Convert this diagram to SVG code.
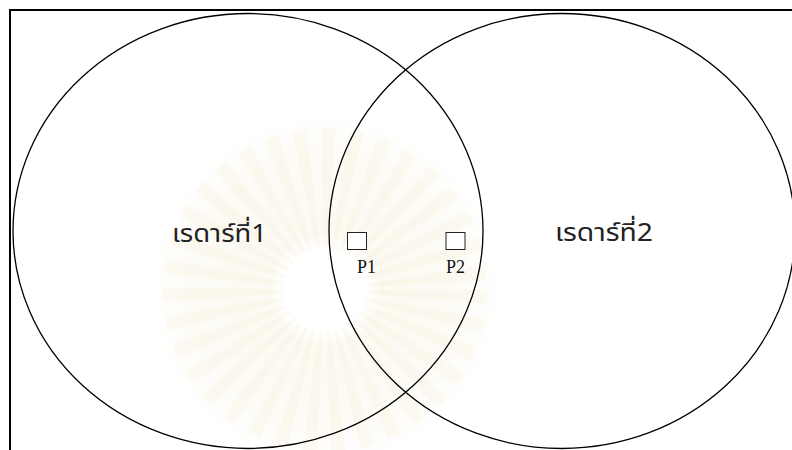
<svg xmlns="http://www.w3.org/2000/svg" width="792" height="450" viewBox="0 0 792 450">
  <defs>
    <style>
      .ring { fill: none; stroke: #000; stroke-width: 1.3; }
      .frame { fill: none; stroke: #000; stroke-width: 2; }
      .box { fill: #fff; stroke: #222; stroke-width: 1; }
      .thai { font-family: "Noto Sans Thai", "Noto Sans Thai UI", "Noto Sans", sans-serif; font-size: 25px; fill: #222; }
      .plabel { font-family: "Liberation Serif", "Times New Roman", serif; font-size: 18px; fill: #111; }
    </style>
    <radialGradient id="wm" cx="0.5" cy="0.5" r="0.5">
      <stop offset="0" stop-color="#fff" stop-opacity="0"/>
      <stop offset="0.22" stop-color="#fff" stop-opacity="0"/>
      <stop offset="0.32" stop-color="#f8f4e4" stop-opacity="0.5"/>
      <stop offset="0.75" stop-color="#f8f4e4" stop-opacity="0.35"/>
      <stop offset="1" stop-color="#f8f4e4" stop-opacity="0"/>
    </radialGradient>
  </defs>
  <rect width="792" height="450" fill="#fff"/>
  <g id="watermark">
    <circle cx="325" cy="290" r="175" fill="url(#wm)"/>
    <circle cx="325" cy="290" r="100" fill="none" stroke="#f3ebcf" stroke-opacity="0.2" stroke-width="125" stroke-dasharray="9 9"/>
    <circle cx="325" cy="290" r="42" fill="#fff"/>
  </g>
  <rect id="frame" class="frame" x="10" y="10" width="800" height="460"/>
  <g id="radar1">
    <ellipse class="ring" cx="248" cy="231" rx="235" ry="217.5"/>
    <text class="thai" x="172" y="242" textLength="95" lengthAdjust="spacingAndGlyphs">เรดาร์ที่1</text>
  </g>
  <g id="radar2">
    <ellipse class="ring" cx="562" cy="231" rx="233" ry="217.5"/>
    <text class="thai" x="555" y="241" textLength="98" lengthAdjust="spacingAndGlyphs">เรดาร์ที่2</text>
  </g>
  <g id="p1">
    <rect class="box" x="347.5" y="232.5" width="19" height="17"/>
    <text class="plabel" x="357" y="273">P1</text>
  </g>
  <g id="p2">
    <rect class="box" x="446" y="232.5" width="19" height="17"/>
    <text class="plabel" x="446" y="273">P2</text>
  </g>
  <g id="connectors"/>
</svg>
